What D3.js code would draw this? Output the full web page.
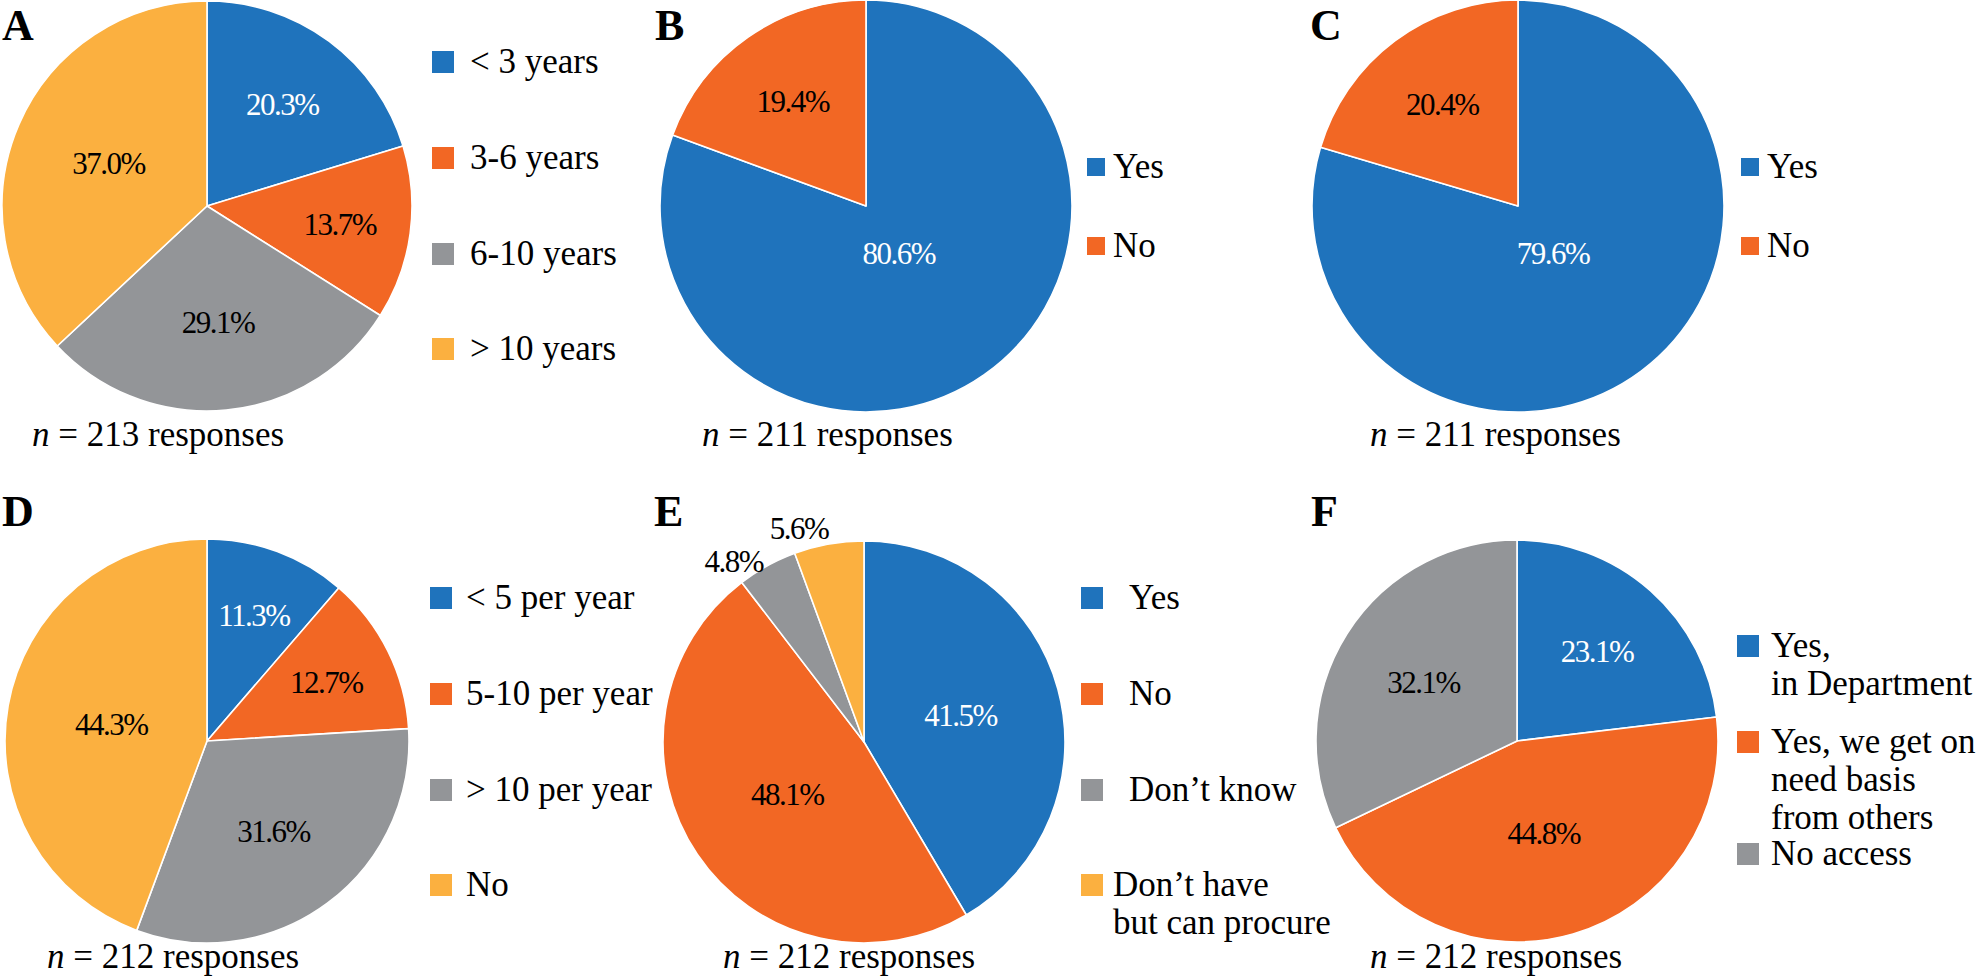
<!DOCTYPE html>
<html><head><meta charset="utf-8">
<script src="https://cdn.jsdelivr.net/npm/d3@7"></script>
<style>
body{margin:0;background:#fff}
svg{display:block}
text{font-family:"Liberation Serif","Times New Roman",serif;fill:#000}
</style>
</head><body>
<svg id="c" width="1986" height="980"></svg>
<script>
// ---- data ----
const catsA = ["< 3 years", "3-6 years", "6-10 years", "> 10 years"];
const valsA = [20.3, 13.7, 29.1, 37.0];
const catsB = ["Yes", "No"];
const valsB = [80.6, 19.4];
const catsC = ["Yes", "No"];
const valsC = [79.6, 20.4];
const catsD = ["< 5 per year", "5-10 per year", "> 10 per year", "No"];
const valsD = [11.3, 12.7, 31.6, 44.3];
const catsE = ["Yes", "No", "Don’t know", "Don’t have\nbut can procure"];
const valsE = [41.5, 48.1, 4.8, 5.6];
const catsF = ["Yes,\nin Department", "Yes, we get on\nneed basis\nfrom others", "No access"];
const valsF = [23.1, 44.8, 32.1];
const nResponses = [213, 211, 211, 212, 212, 212];
const panelLetters = ["A", "B", "C", "D", "E", "F"];
const palette = ["#1F73BC", "#F26724", "#939598", "#FBB040"];

const panels = [
  {cats: catsA, vals: valsA}, {cats: catsB, vals: valsB}, {cats: catsC, vals: valsC},
  {cats: catsD, vals: valsD}, {cats: catsE, vals: valsE}, {cats: catsF, vals: valsF}
];

// ---- layout ----
const layout = [
  {cx: 207, cy: 206, r: 205, letter: [2, 40], n: [32, 446], leg: {x: 432, ys: [62, 158, 254, 349], size: 22, tx: 470}},
  {cx: 866, cy: 206, r: 206, letter: [655, 40], n: [702, 446], leg: {x: 1087, ys: [167, 246], size: 18, tx: 1113}},
  {cx: 1518, cy: 206, r: 206, letter: [1310, 40], n: [1370, 446], leg: {x: 1741, ys: [167, 246], size: 18, tx: 1767}},
  {cx: 207, cy: 741, r: 202, letter: [2, 526], n: [47, 968], leg: {x: 430, ys: [598, 694, 790, 885], size: 22, tx: 466}},
  {cx: 864, cy: 742, r: 201, letter: [654, 526], n: [723, 968], leg: {x: 1081, ys: [598, 694, 790, 885], size: 22, tx: 1129, txLast: 1113}},
  {cx: 1517, cy: 741, r: 201, letter: [1311, 526], n: [1370, 968], leg: {x: 1737, ys: [646, 742, 854], size: 22, tx: 1771}}
];
const legendFont = 35, lineGap = 38, pctFont = 31;

const svg = d3.select("#c");
const color = d3.scaleOrdinal().domain(d3.range(4)).range(palette);
const pie = d3.pie().sort(null).value(d => d.v);

panels.forEach((p, i) => {
  const L = layout[i];
  const data = p.vals.map((v, k) => ({v, k, cat: p.cats[k]}));
  const total = d3.sum(p.vals);
  const arcs = pie(data);
  const g = svg.append("g").attr("transform", `translate(${L.cx},${L.cy})`);
  const arc = d3.arc().innerRadius(0).outerRadius(L.r);

  g.selectAll("path").data(arcs).join("path")
    .attr("d", arc)
    .attr("fill", d => color(d.data.k))
    .attr("stroke", "#fff").attr("stroke-width", 1.6).attr("stroke-linejoin", "round");

  g.selectAll("text.pct").data(arcs).join("text")
    .attr("class", "pct")
    .attr("transform", d => {
      const frac = d.data.v / total;
      const outside = frac < 0.08;
      const rr = outside ? L.r * 1.11 : L.r * (0.73 - 0.56 * frac);
      const shift = outside ? -0.12 : 0;
      const a = d3.arc().innerRadius(rr).outerRadius(rr);
      const c = a.centroid({startAngle: d.startAngle + shift, endAngle: d.endAngle + shift});
      return `translate(${c[0]},${c[1]})`;
    })
    .attr("text-anchor", "middle")
    .attr("dy", "0.35em")
    .attr("font-size", pctFont)
    .attr("letter-spacing", -1.5)
    .style("fill", d => (d.data.k === 0 && d.data.v / total >= 0.08) ? "#fff" : "#000")
    .text(d => d.data.v.toFixed(1) + "%");

  // panel letter
  svg.append("text").attr("x", L.letter[0]).attr("y", L.letter[1])
    .attr("font-size", 44).attr("font-weight", "bold").text(panelLetters[i]);

  // n = responses
  const nt = svg.append("text").attr("x", L.n[0]).attr("y", L.n[1]).attr("font-size", legendFont);
  nt.append("tspan").attr("font-style", "italic").text("n");
  nt.append("tspan").text(" = " + nResponses[i] + " responses");

  // legend
  const lg = svg.append("g");
  p.cats.forEach((c, k) => {
    const y = L.leg.ys[k];
    lg.append("rect").attr("x", L.leg.x).attr("y", y - L.leg.size / 2)
      .attr("width", L.leg.size).attr("height", L.leg.size).attr("fill", color(k));
    const tx = (L.leg.txLast && k === p.cats.length - 1) ? L.leg.txLast : L.leg.tx;
    const t = lg.append("text").attr("x", tx).attr("y", y + 11).attr("font-size", legendFont);
    c.split("\n").forEach((line, j) => {
      t.append("tspan").attr("x", tx).attr("dy", j === 0 ? 0 : lineGap).text(line);
    });
  });
});
</script>
</body></html>
